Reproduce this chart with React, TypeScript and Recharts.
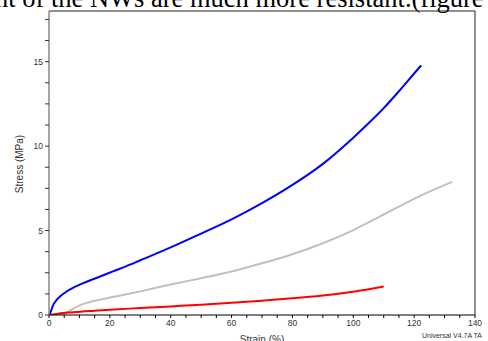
import React from 'react';
import { LineChart, Line, XAxis, YAxis, ReferenceLine, Label } from 'recharts';

// Blue sample
const blueStrain = [0, 0.4, 1.4, 2.5, 3.6, 5.8, 8, 11.3, 16.8, 21, 26.6, 30, 40, 50, 60, 70, 80, 90, 100, 105, 110, 115, 120, 122.3];
const blueStress = [0, 0.12, 0.6, 0.89, 1.09, 1.39, 1.62, 1.89, 2.28, 2.58, 2.98, 3.24, 4.0, 4.82, 5.66, 6.62, 7.7, 8.95, 10.5, 11.35, 12.25, 13.25, 14.3, 14.78];

// Gray sample
const grayStrain = [0, 3, 4.7, 6, 8, 10.2, 13.5, 16.8, 20, 26.6, 30, 40, 50, 60, 70, 80, 90, 100, 105, 110, 115, 120, 125, 132.5];
const grayStress = [0, 0, 0.04, 0.18, 0.38, 0.58, 0.77, 0.91, 1.03, 1.27, 1.4, 1.8, 2.18, 2.58, 3.06, 3.6, 4.25, 5.03, 5.48, 5.95, 6.42, 6.88, 7.3, 7.88];

// Red sample
const redStrain = [0, 3, 8, 15, 20, 30, 40, 50, 60, 70, 80, 90, 100, 110];
const redStress = [0, 0.08, 0.16, 0.25, 0.31, 0.41, 0.51, 0.61, 0.72, 0.85, 0.99, 1.16, 1.38, 1.69];

const xTicks = [0, 5, 10, 15, 20, 25, 30, 35, 40, 45, 50, 55, 60, 65, 70, 75, 80, 85, 90, 95, 100, 105, 110, 115, 120, 125, 130, 135, 140];
const xLabelValues = [0, 20, 40, 60, 80, 100, 120, 140];
const yTicks = [0, 1.25, 2.5, 3.75, 5, 6.25, 7.5, 8.75, 10, 11.25, 12.5, 13.75, 15, 16.25, 17.5];
const yLabelValues = [0, 5, 10, 15];

const xTitle = 'Strain (%)';
const yTitle = 'Stress (MPa)';
const captionText = 'nt of the NWs are much more resistant.(figure';
const footerText = 'Universal V4.7A TA';

const toPoints = (xs: number[], ys: number[]) => xs.map((x, i) => ({ x, y: ys[i] }));
const blueData = toPoints(blueStrain, blueStress);
const grayData = toPoints(grayStrain, grayStress);
const redData = toPoints(redStrain, redStress);

const sans = '"Liberation Sans", Arial, sans-serif';
const tickStyle = { fontSize: 8.5, fill: '#333', fontFamily: sans };

export default function App() {
  return (
    <div style={{ position: 'absolute', left: 0, top: 0, width: 488, height: 341, overflow: 'hidden', background: '#fff' }}>
      <svg width={488} height={341} style={{ position: 'absolute', left: 0, top: 0 }}>
        <text x={-5} y={7} fontFamily='"Liberation Serif", "Times New Roman", serif' fontSize={26.5} fill="#000">
          {captionText}
        </text>
        <text x={482} y={338} textAnchor="end" fontFamily={sans} fontSize={7} fill="#333">
          {footerText}
        </text>
      </svg>
      <div style={{ position: 'absolute', left: 0, top: 0 }}>
        <LineChart width={488} height={341} margin={{ top: 11, right: 13, bottom: 0, left: 19 }}>
          <XAxis
            dataKey="x"
            type="number"
            domain={[0, 140]}
            ticks={xTicks}
            tickFormatter={(v: number) => (xLabelValues.includes(v) ? String(v) : '')}
            height={26}
            tickSize={3}
            tickMargin={2}
            tick={tickStyle}
            stroke="#000"
            axisLine={{ stroke: '#000', strokeWidth: 1.2 }}
            tickLine={{ stroke: '#000' }}
            allowDuplicatedCategory={false}
            interval={0}
          >
            <Label
              content={(p: any) => {
                const vb = p.viewBox || { x: 49, y: 315, width: 426, height: 26 };
                return (
                  <text x={vb.x + vb.width / 2} y={vb.y + 27.5} textAnchor="middle" fontFamily={sans} fontSize={10} fill="#333">
                    {xTitle}
                  </text>
                );
              }}
            />
          </XAxis>
          <YAxis
            type="number"
            domain={[0, 18]}
            ticks={yTicks}
            tickFormatter={(v: number) => (yLabelValues.includes(v) ? String(v) : '')}
            width={30}
            tickSize={4}
            tickMargin={2}
            tick={tickStyle}
            axisLine={{ stroke: '#888', strokeWidth: 1.5 }}
            tickLine={{ stroke: '#333' }}
            interval={0}
            allowDataOverflow
          >
            <Label
              content={(p: any) => {
                const vb = p.viewBox || { x: 19, y: 11, width: 30, height: 304 };
                const cx = 20;
                const cy = vb.y + vb.height / 2 + 1;
                return (
                  <text x={cx} y={cy} transform={`rotate(-90, ${cx}, ${cy})`} textAnchor="middle" dominantBaseline="middle" fontFamily={sans} fontSize={10} fill="#333">
                    {yTitle}
                  </text>
                );
              }}
            />
          </YAxis>
          <ReferenceLine y={18} stroke="#222" strokeWidth={1} />
          <ReferenceLine x={140} stroke="#222" strokeWidth={1} />
          <Line data={grayData} dataKey="y" type="monotone" dot={false} stroke="#c0c0c0" strokeWidth={2} isAnimationActive={false} />
          <Line data={redData} dataKey="y" type="monotone" dot={false} stroke="#ff0000" strokeWidth={2} isAnimationActive={false} />
          <Line data={blueData} dataKey="y" type="monotone" dot={false} stroke="#0000ff" strokeWidth={2} isAnimationActive={false} />
        </LineChart>
      </div>
    </div>
  );
}
